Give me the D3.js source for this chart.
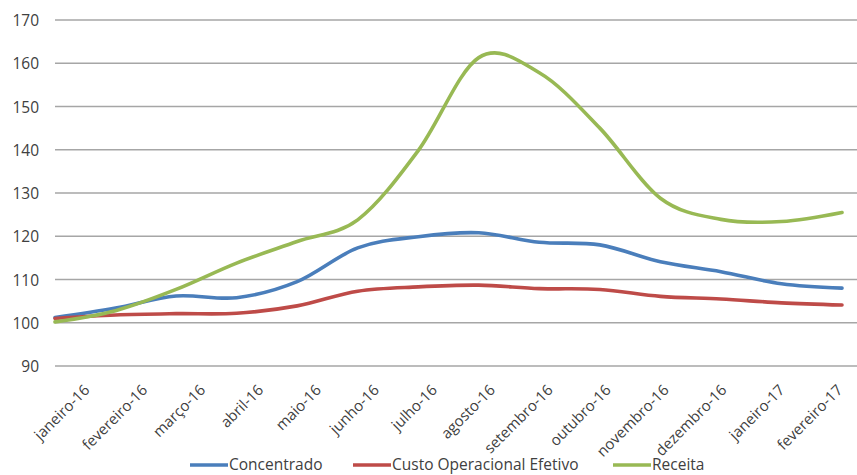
<!DOCTYPE html>
<html>
<head>
<meta charset="utf-8">
<script src="https://cdn.jsdelivr.net/npm/d3@7"></script>
<style>
  html, body { margin: 0; padding: 0; background: #fff; }
  svg text { font-family: "Open Sans", "Noto Sans", sans-serif; fill: #404040; }
</style>
</head>
<body>
<svg id="chart" width="857" height="475"></svg>
<script>
// Monthly index series (base janeiro-16 ≈ 100)
const categories = [
  "janeiro-16", "fevereiro-16", "março-16", "abril-16", "maio-16", "junho-16",
  "julho-16", "agosto-16", "setembro-16", "outubro-16", "novembro-16",
  "dezembro-16", "janeiro-17", "fevereiro-17"
];
const concentrado = [101.2, 103.4, 106.2, 105.8, 109.5, 117.3, 119.9, 120.8, 118.6, 118.0, 114.1, 111.8, 109.0, 108.0];
const custoOperacional = [101.0, 101.8, 102.1, 102.2, 103.9, 107.3, 108.3, 108.7, 107.9, 107.7, 106.1, 105.5, 104.6, 104.1];
const receita = [100.2, 102.8, 107.7, 113.8, 118.8, 123.8, 139.8, 161.3, 157.8, 145.0, 128.8, 123.9, 123.4, 125.5];
const yTicks = [90, 100, 110, 120, 130, 140, 150, 160, 170];

const seriesNames = ["Concentrado", "Custo Operacional Efetivo", "Receita"];
const seriesColors = ["#4a7ebb", "#be4b48", "#98b954"];
const seriesValues = [concentrado, custoOperacional, receita];

const svg = d3.select("#chart");

const x = d3.scalePoint().domain(categories).range([55, 842]);
const xLabels = d3.scalePoint().domain(categories).range([90, 843]);
const y = d3.scaleLinear().domain([90, 170]).range([366, 20]);

// Horizontal gridlines
svg.append("g")
  .selectAll("line")
  .data(yTicks)
  .join("line")
  .attr("x1", 55).attr("x2", 857)
  .attr("y1", d => y(d)).attr("y2", d => y(d))
  .attr("stroke", "#a6a6a6")
  .attr("stroke-width", 1.3);

// Y axis labels
const yAxis = svg.append("g")
  .attr("transform", "translate(39,0)")
  .call(d3.axisLeft(y).tickValues(yTicks).tickSize(0).tickPadding(0));
yAxis.select(".domain").remove();
yAxis.selectAll("text")
  .attr("font-size", 15.5)
  .attr("dy", "0.36em")
  .style("font-family", "\"Open Sans\", sans-serif")
  .attr("fill", "#404040");

// X axis labels, rotated
const xAxis = svg.append("g")
  .attr("transform", "translate(0,391)")
  .call(d3.axisBottom(xLabels).tickSize(0).tickPadding(0));
xAxis.select(".domain").remove();
xAxis.selectAll("text")
  .attr("font-size", 15)
  .attr("text-anchor", "end")
  .attr("dy", 0)
  .attr("y", 0)
  .attr("transform", "rotate(-45)")
  .style("font-family", "\"Open Sans\", sans-serif")
  .attr("fill", "#404040");

// Smoothed series lines
const line = d3.line()
  .x((d, i) => x(categories[i]))
  .y(d => y(d))
  .curve(d3.curveCardinal.tension(0));

svg.append("g")
  .selectAll("path")
  .data(seriesValues)
  .join("path")
  .attr("d", d => line(d))
  .attr("fill", "none")
  .attr("stroke", (d, i) => seriesColors[i])
  .attr("stroke-width", 3.6)
  .attr("stroke-linecap", "round")
  .attr("stroke-linejoin", "round");

// Legend
const legendX = [190, 353, 613];
const legend = svg.append("g")
  .selectAll("g")
  .data(seriesNames)
  .join("g")
  .attr("transform", (d, i) => `translate(${legendX[i]},465)`);
legend.append("line")
  .attr("x1", 0).attr("x2", 38)
  .attr("stroke", (d, i) => seriesColors[i])
  .attr("stroke-width", 3.6);
legend.append("text")
  .attr("x", 39)
  .attr("dy", "0.34em")
  .attr("font-size", 15.5)
  .text(d => d);
</script>
</body>
</html>
